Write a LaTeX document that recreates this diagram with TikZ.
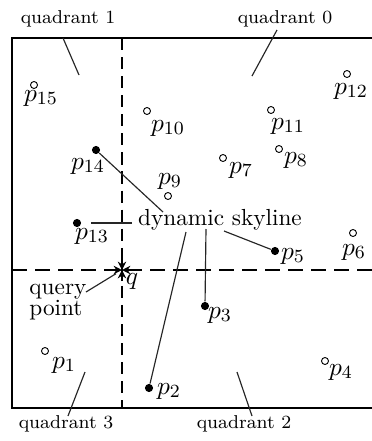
\documentclass[tikz,border=0pt]{standalone}
\usepackage{fontspec}
\usetikzlibrary{arrows.meta}
\begin{document}
\begin{tikzpicture}[x=0.43pt,y=-0.43pt,
  frame/.style={line width=0.8pt},
  hdline/.style={line width=0.65pt, dash pattern=on 6.4pt off 3.5pt},
  vdline/.style={line width=0.65pt, dash pattern=on 5.2pt off 3pt},
  conn/.style={line width=0.5pt, draw=black!85},
  sol/.style={circle, fill=black, inner sep=0pt, minimum size=3.5pt},
  hol/.style={circle, draw, line width=0.4pt, inner sep=0pt, minimum size=3pt},
  lbl/.style={inner sep=0pt, font=\fontsize{10.95}{13}\selectfont},
  txt/.style={inner sep=0pt, font=\fontsize{10}{9}\selectfont},
  qlab/.style={inner sep=0pt, font=\fontsize{8}{9}\selectfont},
  qarr/.style={line width=0.9pt, -{Stealth[length=3.6pt,width=3.6pt]}}]
\useasboundingbox (0,0) rectangle (372,441);
% frame and dashed axes
\draw[frame] (372,38) -- (12,38) -- (12,408) -- (372,408);
\draw[vdline] (122,38) -- (122,408);
\draw[hdline] (12,270) -- (372,270);
% query point marker
\coordinate (q) at (122,270);
\path (q) ++(-11,0) coordinate (qw) (q) ++(11,0) coordinate (qe)
      (q) ++(0,-11) coordinate (qn) (q) ++(0,11) coordinate (qs);
\draw[qarr] (qw) -- (q);
\draw[qarr] (qe) -- (q);
\draw[qarr] (qn) -- (q);
\draw[qarr] (qs) -- (q);
\node[lbl] (ql) at (132,281) {$q$};
% hollow points
\node[hol] (c15) at (34,85) {};  \node[lbl] (l15) at (41,98) {$p_{15}$};
\node[hol] (c10) at (147,111) {}; \node[lbl] (l10) at (168,128) {$p_{10}$};
\node[hol] (c11) at (271,110) {}; \node[lbl] (l11) at (288,126) {$p_{11}$};
\node[hol] (c12) at (347,74) {};  \node[lbl] (l12) at (351,91) {$p_{12}$};
\node[hol] (c8) at (279,149) {};  \node[lbl] (l8) at (296,160) {$p_8$};
\node[hol] (c7) at (223,158) {};  \node[lbl] (l7) at (241,170) {$p_7$};
\node[hol] (c9) at (168,196) {};  \node[lbl] (l9) at (170,181) {$p_9$};
\node[hol] (c6) at (353,233) {};  \node[lbl] (l6) at (354,252) {$p_6$};
\node[hol] (c1) at (45,351) {};   \node[lbl] (l1) at (64,365) {$p_1$};
\node[hol] (c4) at (325,361) {};  \node[lbl] (l4) at (341,372) {$p_4$};
% skyline points
\node[sol] (d14) at (96,150) {};  \node[lbl] (l14) at (88,166) {$p_{14}$};
\node[sol] (d13) at (77,223) {};  \node[lbl] (l13) at (92,236) {$p_{13}$};
\node[sol] (d5) at (275,251) {};  \node[lbl] (l5) at (293,256) {$p_5$};
\node[sol] (d3) at (205,306) {};  \node[lbl] (l3) at (220,315) {$p_3$};
\node[sol] (d2) at (149,388) {};  \node[lbl] (l2) at (169,391) {$p_2$};
% dynamic skyline label and its connectors
\node[txt] (sky) at (220,220) {dynamic skyline};
\coordinate (s14) at (163,212);
\coordinate (s13) at (132,223);
\coordinate (s5) at (224,231);
\coordinate (s2) at (186,232);
\coordinate (s3) at (206,229);
\draw[conn] (s14) -- (d14);
\draw[conn, shorten >=4pt] (s13) -- (d13);
\draw[conn] (s5) -- (d5);
\draw[conn] (s2) -- (d2);
\draw[conn] (s3) -- (d3);
% query point label
\node[txt, align=left, anchor=north west] (qp) at (29,284) {query\\point};
\coordinate (qa) at (86,292);
\draw[conn, shorten >=3pt] (qa) -- (q);
% quadrant labels
\node[qlab] (q1) at (68,19) {quadrant 1};
\node[qlab] (q0) at (285,19) {quadrant 0};
\node[qlab] (q3) at (66,424) {quadrant 3};
\node[qlab] (q2) at (244,424) {quadrant 2};
\coordinate (q1a) at (63,38);  \coordinate (q1b) at (79,75);
\coordinate (q0a) at (277,30); \coordinate (q0b) at (252,76);
\coordinate (q3a) at (85,372); \coordinate (q3b) at (68,416);
\coordinate (q2a) at (237,372); \coordinate (q2b) at (252,416);
\draw[conn] (q1a) -- (q1b);
\draw[conn] (q0a) -- (q0b);
\draw[conn] (q3a) -- (q3b);
\draw[conn] (q2a) -- (q2b);
\end{tikzpicture}
\end{document}
